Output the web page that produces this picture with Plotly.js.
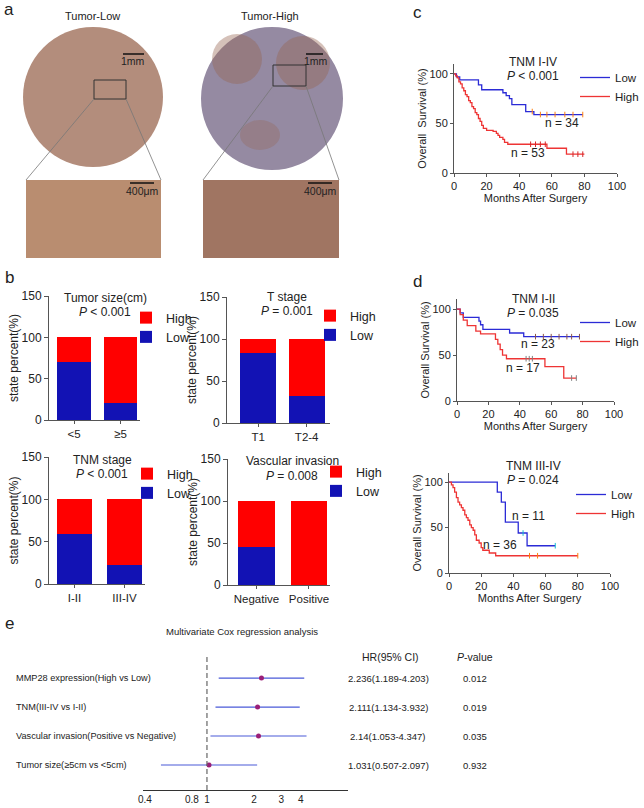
<!DOCTYPE html>
<html><head><meta charset="utf-8">
<script src="https://cdn.plot.ly/plotly-3.0.1.min.js"></script>
<style>html,body{margin:0;padding:0;background:#fff}#chart{width:644px;height:808px}</style>
</head><body><div id="chart"></div>
<script>
// ---------- DATA ----------
// Panel c: TNM I-IV
const cLowT  = [0, 1.5, 3.5, 15, 17, 30, 32, 34, 35.5, 44, 49, 79];
const cLowS  = [100, 97, 94, 89, 84, 81, 78, 75, 69, 62, 59, 59];
const cLowCens = [48, 53, 57, 62, 68, 73, 79];
const cHighT = [0, 1, 2, 3, 4, 5, 6, 7, 8, 9, 10, 11, 12, 13, 14, 15, 16, 17, 18, 20, 24, 26, 27, 28, 30, 31, 33, 57, 69, 80];
const cHighS = [100, 98, 96, 92, 90, 86, 83, 79, 77, 73, 71, 67, 65, 61, 59, 55, 52, 48, 45, 43, 42, 40, 38, 36, 34, 31, 29, 25, 19, 19];
const cHighCens = [47, 50, 53, 56, 73, 76, 79];
// Panel d top: TNM I-II
const dTLowT  = [0, 2, 4, 14, 15, 16.5, 33.5, 42.5, 78];
const dTLowS  = [100, 96, 91, 87, 83, 78, 74, 70, 70];
const dTLowCens = [50, 55, 60, 65, 70, 73, 78];
const dTHighT = [0, 2, 4, 6.5, 12, 15, 24.5, 26, 27.5, 29, 31.5, 56, 68, 76];
const dTHighS = [100, 94, 88, 82, 76, 73, 67, 62, 56, 50, 46, 37.5, 25, 25];
const dTHighCens = [44, 46, 48, 73, 76];
// Panel d bottom: TNM III-IV
const dBLowT  = [0, 30, 32.5, 35, 43, 48.5, 66];
const dBLowS  = [100, 89, 78, 56, 44, 30, 30];
const dBLowCens = [46, 66];
const dBHighT = [0, 1.5, 2.5, 3.5, 4.6, 5.6, 6.6, 7.7, 8.7, 9.8, 10.8, 11.8, 12.9, 13.9, 15, 16, 17, 18.7, 20, 21, 25, 29, 80];
const dBHighS = [100, 97, 94, 89, 83, 78, 75, 72, 69, 64, 61, 58, 53, 50, 47, 42, 36, 33, 28, 25, 22, 19, 19];
const dBHighCens = [50, 55, 80];

// Panel b: stacked percentages
const sizeCats = ['<5', '≥5'];       const sizeLow = [70, 20];  const sizeHigh = [30, 80];
const tCats = ['T1', 'T2-4'];         const tLow = [83, 32];     const tHigh = [17, 68];
const tnmCats = ['I-II', 'III-IV'];   const tnmLow = [59, 23];   const tnmHigh = [41, 77];
const vascCats = ['Negative', 'Positive']; const vascLow = [45, 0]; const vascHigh = [55, 100];

// Panel e: Cox regression
const coxLabels = ['MMP28 expression(High vs Low)', 'TNM(III-IV vs I-II)', 'Vascular invasion(Positive vs Negative)', 'Tumor size(≥5cm vs <5cm)'];
const coxHR = [2.236, 2.111, 2.14, 1.031];
const coxLo = [1.189, 1.134, 1.053, 0.507];
const coxHi = [4.203, 3.932, 4.347, 2.097];
const coxP  = ['0.012', '0.019', '0.035', '0.932'];
const coxTicks = [0.4, 0.8, 1, 2, 3, 4];
const refHR = 1;

// ---------- HELPERS ----------
const W = 644, H = 808;
const FONT = 'Liberation Sans, Arial, sans-serif';
const dx = (a, b) => [a / W, b / W];
const dy = (top, bot) => [1 - bot / H, 1 - top / H];
const px = v => v / W, py = v => 1 - v / H;
const BLUE = '#2b2bd6', RED = '#ee3434';
const BARBLUE = '#1212b4', BARRED = '#ff0000';

function survAt(t, times, surv) {
  let s = surv[0];
  for (let i = 0; i < times.length; i++) if (times[i] <= t) s = surv[i];
  return s;
}

const traces = [];
const annotations = [];
const shapes = [];

function kmPanel(ax, legendId, lowT, lowS, lowC, highT, highS, highC) {
  const xa = 'x' + ax, ya = 'y' + ax;
  [[lowT, lowS, lowC, BLUE, 'Low'], [highT, highS, highC, RED, 'High']].forEach(([t, s, c, col, nm]) => {
    traces.push({x: t, y: s, xaxis: xa, yaxis: ya, type: 'scatter', mode: 'lines', name: nm,
      line: {color: col, width: 1.3, shape: 'hv'}, legend: legendId, hoverinfo: 'skip', cliponaxis: false});
    traces.push({x: c, y: c.map(v => survAt(v, t, s)), xaxis: xa, yaxis: ya, type: 'scatter', mode: 'markers',
      marker: {symbol: 'line-ns-open', size: 4, line: {color: col, width: 1}}, showlegend: false, hoverinfo: 'skip', cliponaxis: false});
  });
}
kmPanel('', 'legend', cLowT, cLowS, cLowCens, cHighT, cHighS, cHighCens);
kmPanel('2', 'legend2', dTLowT, dTLowS, dTLowCens, dTHighT, dTHighS, dTHighCens);
kmPanel('3', 'legend3', dBLowT, dBLowS, dBLowCens, dBHighT, dBHighS, dBHighCens);

function barPanel(ax, legendId, cats, low, high, w) {
  traces.push({x: cats, y: low, xaxis: 'x' + ax, yaxis: 'y' + ax, type: 'bar', name: 'Low', width: w,
    marker: {color: BARBLUE, line: {width: 0}}, legend: legendId, hoverinfo: 'skip'});
  traces.push({x: cats, y: high, xaxis: 'x' + ax, yaxis: 'y' + ax, type: 'bar', name: 'High', width: w,
    marker: {color: BARRED, line: {width: 0}}, legend: legendId, hoverinfo: 'skip'});
}
barPanel('4', 'legend4', sizeCats, sizeLow, sizeHigh, 0.73);
barPanel('5', 'legend5', tCats, tLow, tHigh, 0.74);
barPanel('6', 'legend6', tnmCats, tnmLow, tnmHigh, 0.70);
barPanel('7', 'legend7', vascCats, vascLow, vascHigh, 0.69);

// forest plot
traces.push({x: coxHR, y: coxLabels, xaxis: 'x8', yaxis: 'y8', type: 'scatter', mode: 'markers',
  marker: {color: '#9a1f78', size: 5},
  error_x: {type: 'data', symmetric: false, array: coxHi.map((h, i) => h - coxHR[i]), arrayminus: coxLo.map((l, i) => coxHR[i] - l),
    color: '#4a5ad8', thickness: 1.1, width: 0},
  showlegend: false, hoverinfo: 'skip', cliponaxis: false});
traces.push({x: [refHR, refHR], y: [0, 0.95], xaxis: 'x8', yaxis: 'y9', type: 'scatter', mode: 'lines',
  line: {color: '#666', width: 1.2, dash: '5px,3px'}, showlegend: false, hoverinfo: 'skip'});

// ---------- AXES ----------
const baseAx = {showgrid: false, zeroline: false, showline: true, linecolor: '#555', linewidth: 1,
  ticks: 'outside', ticklen: 3, tickwidth: 1, tickcolor: '#555', tickfont: {family: FONT, size: 11, color: '#222'}, fixedrange: true};
function kmX(dom, anchor) {
  return Object.assign({}, baseAx, {domain: dom, anchor: anchor, range: [0, 100], tickvals: [0, 20, 40, 60, 80, 100],
    title: {text: 'Months After Surgery', font: {family: FONT, size: 11, color: '#222'}, standoff: 2}});
}
function kmY(dom, anchor, rmax, t) {
  return Object.assign({}, baseAx, {domain: dom, anchor: anchor, range: [0, rmax], tickvals: [0, 50, 100],
    title: {text: t, font: {family: FONT, size: 11, color: '#222'}, standoff: 0}});
}
function barX(dom, anchor, r) {
  return Object.assign({}, baseAx, {domain: dom, anchor: anchor, type: 'category', range: r, tickfont: {family: FONT, size: 11.5, color: '#222'}, ticklen: 3});
}
function barY(dom, anchor) {
  return Object.assign({}, baseAx, {domain: dom, anchor: anchor, range: [0, 150], tickvals: [0, 50, 100, 150], ticklen: 4,
    tickfont: {family: FONT, size: 12, color: '#222'},
    title: {text: 'state percent(%)', font: {family: FONT, size: 12, color: '#222'}, standoff: 0}});
}

// ---------- ANNOTATIONS ----------
function txt(text, x, y, size, opts) {
  annotations.push(Object.assign({text: text, x: px(x), y: py(y), xref: 'paper', yref: 'paper', showarrow: false,
    font: {family: FONT, size: size, color: '#222'}, xanchor: 'center', yanchor: 'middle'}, opts || {}));
}
// panel letters
txt('a', 9, 9, 17); txt('b', 9, 277, 17); txt('c', 417, 12, 17); txt('d', 417, 281, 17); txt('e', 9, 623, 17);
// panel a
txt('Tumor-Low', 92, 16, 11); txt('Tumor-High', 270, 16, 11);
txt('1mm', 133, 61, 10.5); txt('1mm', 316, 61, 10.5);
txt('400μm', 142, 191, 10.5); txt('400μm', 320, 191, 10.5);
// panel c / d titles
txt('TNM I-IV', 533, 62, 12); txt('<i>P</i> < 0.001', 533, 76, 12);
txt('n = 34', 562, 123, 12); txt('n = 53', 528, 153, 12);
txt('TNM I-II', 533, 299, 12); txt('<i>P</i> = 0.035', 533, 313, 12);
txt('n = 23', 538, 344, 12); txt('n = 17', 523, 368, 12);
txt('TNM III-IV', 533, 466, 12); txt('<i>P</i> = 0.024', 533, 480, 12);
txt('n = 11', 528, 516, 12); txt('n = 36', 500, 545, 12);
// panel b titles
txt('Tumor size(cm)', 105, 298, 12); txt('<i>P</i> < 0.001', 105, 312, 12);
txt('T stage', 287, 297, 12); txt('<i>P</i> = 0.001', 287, 311, 12);
txt('TNM stage', 102, 460, 12); txt('<i>P</i> < 0.001', 102, 474, 12);
txt('Vascular invasion', 292, 461, 12); txt('<i>P</i> = 0.008', 292, 476, 12);
// panel e
txt('Multivariate Cox regression analysis', 242, 631, 9.5);
txt('HR(95% CI)', 391, 657, 10.5); txt('<i>P</i>-value', 475, 657, 10.5);
coxLabels.forEach((l, i) => {
  annotations.push({text: l, x: px(14), y: l, xref: 'paper', yref: 'y8', showarrow: false, xanchor: 'left', yanchor: 'middle',
    font: {family: FONT, size: 9.2, color: '#222'}});
  annotations.push({text: coxHR[i] + '(' + coxLo[i] + '-' + coxHi[i] + ')', x: px(388), y: l, xref: 'paper', yref: 'y8', showarrow: false,
    xanchor: 'center', yanchor: 'middle', font: {family: FONT, size: 9.5, color: '#222'}});
  annotations.push({text: coxP[i], x: px(475), y: l, xref: 'paper', yref: 'y8', showarrow: false,
    xanchor: 'center', yanchor: 'middle', font: {family: FONT, size: 9.5, color: '#222'}});
});

// ---------- PANEL a (tissue images approximated with shapes) ----------
function rectP(x0, y0, x1, y1, fill, line) {
  shapes.push({type: 'rect', xref: 'paper', yref: 'paper', x0: px(x0), x1: px(x1), y0: py(y0), y1: py(y1),
    fillcolor: fill || 'rgba(0,0,0,0)', line: line || {width: 0}, layer: 'above'});
}
function circP(x0, y0, x1, y1, fill) {
  shapes.push({type: 'circle', xref: 'paper', yref: 'paper', x0: px(x0), x1: px(x1), y0: py(y0), y1: py(y1),
    fillcolor: fill, line: {width: 0}, layer: 'above'});
}
function lineP(x0, y0, x1, y1, col, w) {
  shapes.push({type: 'line', xref: 'paper', yref: 'paper', x0: px(x0), x1: px(x1), y0: py(y0), y1: py(y1),
    line: {color: col, width: w}, layer: 'above'});
}
circP(23, 27, 163, 167, '#b38d7c');
circP(201, 27, 343, 170, '#958aa2');
circP(212, 34, 262, 84, 'rgba(150,100,80,0.4)');
circP(276, 36, 330, 90, 'rgba(150,100,80,0.4)');
circP(240, 120, 280, 150, 'rgba(150,100,80,0.3)');
rectP(26, 180, 161, 258, '#b98d70');
rectP(203, 180, 339, 258, '#a07562');
rectP(94, 80, 126, 99, null, {color: '#333', width: 1});
rectP(273, 65, 306, 86, null, {color: '#333', width: 1});
lineP(94, 99, 26, 180, '#777', 0.8); lineP(126, 99, 161, 180, '#777', 0.8);
lineP(273, 86, 203, 180, '#777', 0.8); lineP(306, 86, 339, 180, '#777', 0.8);
lineP(123, 54, 144, 54, '#111', 1.5); lineP(306, 54, 323, 54, '#111', 1.5);
lineP(130, 183, 154, 183, '#111', 1.5); lineP(308, 183, 332, 183, '#111', 1.5);

// ---------- LEGENDS ----------
function leg(x, y, size, anchor) {
  return {x: x, y: py(y), xanchor: anchor || 'left', yanchor: 'top',
    bgcolor: 'rgba(0,0,0,0)', borderwidth: 0,
    font: {family: FONT, size: size, color: '#222'}, itemwidth: 30, tracegroupgap: 0};
}
const layout = {
  width: W, height: H, margin: {l: 0, r: 0, t: 0, b: 0}, paper_bgcolor: '#fff', plot_bgcolor: 'rgba(0,0,0,0)',
  barmode: 'stack', showlegend: true, font: {family: FONT},
  xaxis: kmX(dx(454, 617), 'y'), yaxis: kmY(dy(64, 173), 'x', 110, 'Overall  Survival (%)'),
  xaxis2: kmX(dx(457, 614), 'y2'), yaxis2: kmY(dy(299, 401), 'x2', 111, 'Overall Survival (%)'),
  xaxis3: kmX(dx(449, 610), 'y3'), yaxis3: kmY(dy(473, 573), 'x3', 110, 'Overall Survival (%)'),
  xaxis4: barX(dx(49, 140), 'y4', [-0.54, 1.42]), yaxis4: barY(dy(296, 420), 'x4'),
  xaxis5: barX(dx(227, 330), 'y5', [-0.64, 1.48]), yaxis5: barY(dy(297, 423), 'x5'),
  xaxis6: barX(dx(49, 145), 'y6', [-0.51, 1.41]), yaxis6: barY(dy(457, 584), 'x6'),
  xaxis7: barX(dx(228, 330), 'y7', [-0.54, 1.40]), yaxis7: barY(dy(459, 585), 'x7'),
  xaxis8: Object.assign({}, baseAx, {domain: dx(143, 348), anchor: 'y8', type: 'log', range: [-0.41, 0.904],
    tickvals: coxTicks, ticktext: coxTicks.map(String), ticks: '', linecolor: '#333', tickfont: {family: FONT, size: 10, color: '#222'}}),
  yaxis8: {domain: dy(650, 790), anchor: 'x8', type: 'category', categoryorder: 'array', categoryarray: coxLabels.slice().reverse(),
    range: [-0.862, 3.97], visible: false, fixedrange: true},
  yaxis9: {domain: dy(650, 790), anchor: 'x8', overlaying: 'y8', range: [0, 1], visible: false, fixedrange: true},
  legend: Object.assign(leg(1, 63, 11.5, 'right'), {traceorder: 'normal'}),
  legend2: Object.assign(leg(1, 308, 11.5, 'right'), {traceorder: 'normal'}),
  legend3: Object.assign(leg(px(571), 480, 11.5), {traceorder: 'normal'}),
  legend4: Object.assign(leg(px(126), 303, 12.5), {traceorder: 'reversed'}),
  legend5: Object.assign(leg(px(310), 301, 12.5), {traceorder: 'reversed'}),
  legend6: Object.assign(leg(px(127), 459, 12.5), {traceorder: 'reversed'}),
  legend7: Object.assign(leg(px(316), 457, 12.5), {traceorder: 'reversed'}),
  annotations: annotations, shapes: shapes
};
Plotly.newPlot('chart', traces, layout, {staticPlot: true, displayModeBar: false});
</script></body></html>
